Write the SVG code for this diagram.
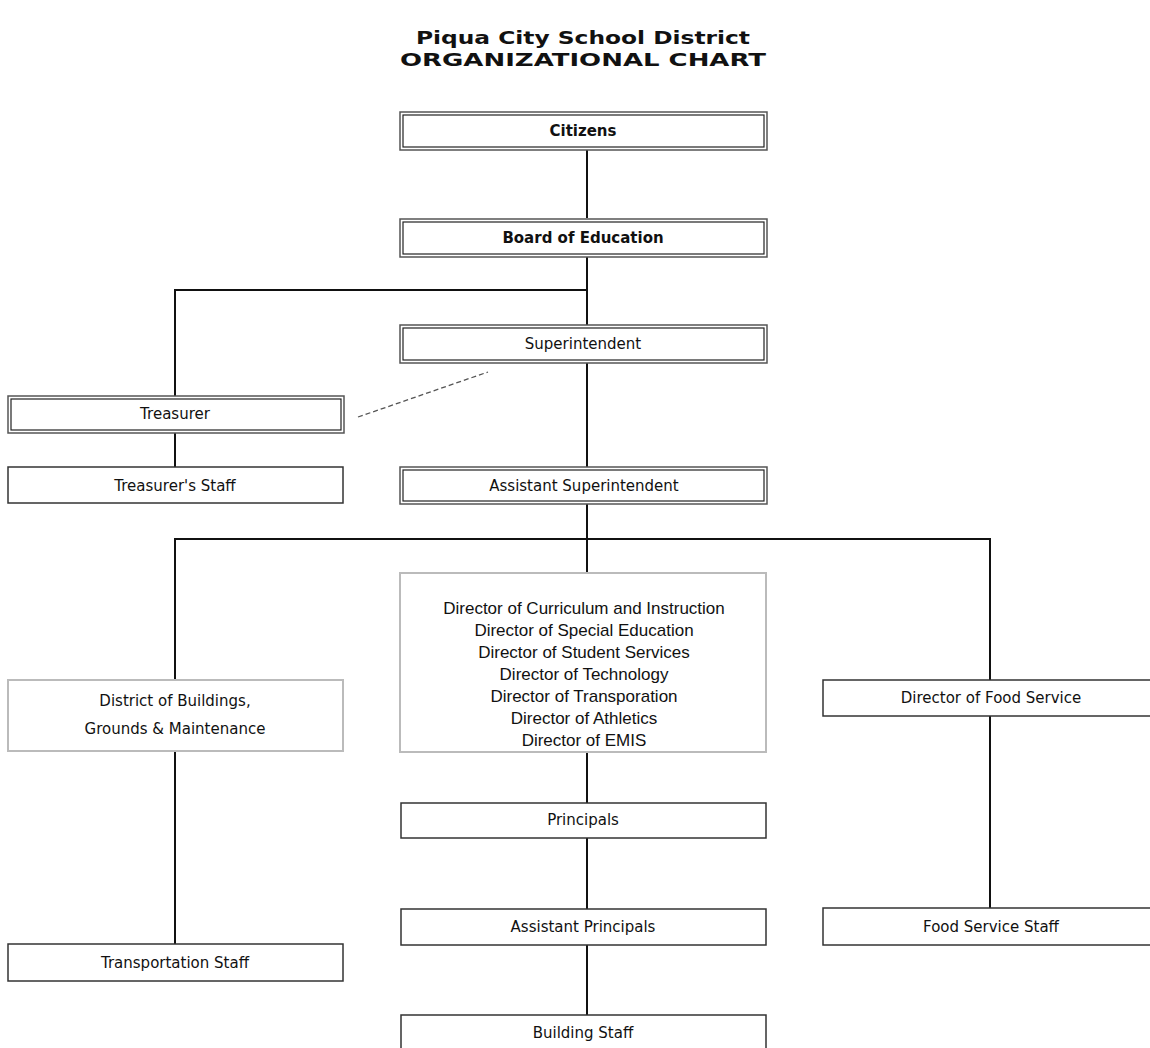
<svg xmlns="http://www.w3.org/2000/svg" width="1150" height="1048" viewBox="0 0 1150 1048">
<style>
.bg{fill:#fff}
.t{font-family:"Comic Sans MS","DejaVu Sans",sans-serif;font-size:15px;fill:#111;text-anchor:middle;dominant-baseline:central}
.b{font-weight:bold}
.title{font-family:"Comic Sans MS","DejaVu Sans",sans-serif;font-size:18px;font-weight:bold;fill:#111;text-anchor:middle}
.ar{font-family:"Liberation Sans",Arial,sans-serif;font-size:17px;fill:#111;text-anchor:middle}
.outer{fill:#fff;stroke:#555;stroke-width:1.5}
.inner{fill:none;stroke:#222;stroke-width:1.2}
.single{fill:#fff;stroke:#333;stroke-width:1.5}
.gray{fill:#fff;stroke:#bbb;stroke-width:2}
.ln{stroke:#111;stroke-width:2;fill:none}
.dash{stroke:#555;stroke-width:1.3;stroke-dasharray:5,3;fill:none}
</style>
<rect class="bg" width="1150" height="1048"/>
<text class="title" x="583" y="44" textLength="334" lengthAdjust="spacingAndGlyphs">Piqua City School District</text>
<text class="title" x="583" y="66" textLength="366" lengthAdjust="spacingAndGlyphs">ORGANIZATIONAL CHART</text>
<g id="connectors">
<path class="ln" d="M587 150V218"/>
<path class="ln" d="M587 257V325"/>
<path class="ln" d="M587 290H175V396"/>
<path class="ln" d="M175 433V467"/>
<path class="ln" d="M587 363V467"/>
<path class="ln" d="M587 504V573"/>
<path class="ln" d="M175 680V539H990V680"/>
<path class="ln" d="M175 751V944"/>
<path class="ln" d="M587 752V803"/>
<path class="ln" d="M587 838V909"/>
<path class="ln" d="M587 945V1015"/>
<path class="ln" d="M990 716V908"/>
<path class="dash" d="M358 417L488 372"/>
</g>
<g id="citizens"><rect class="outer" x="400" y="112" width="367" height="38"/><rect class="inner" x="403" y="115" width="361" height="32"/><text class="t b" x="583" y="131">Citizens</text></g>
<g id="board"><rect class="outer" x="400" y="219" width="367" height="38"/><rect class="inner" x="403" y="222" width="361" height="32"/><text class="t b" x="583" y="238">Board of Education</text></g>
<g id="superintendent"><rect class="outer" x="400" y="325" width="367" height="38"/><rect class="inner" x="403" y="328" width="361" height="32"/><text class="t" x="583" y="344">Superintendent</text></g>
<g id="treasurer"><rect class="outer" x="8" y="396" width="336" height="37"/><rect class="inner" x="11" y="399" width="330" height="31"/><text class="t" x="175" y="414">Treasurer</text></g>
<g id="treasurer-staff"><rect class="single" x="8" y="467" width="335" height="36"/><text class="t" x="175" y="486">Treasurer's Staff</text></g>
<g id="asst-superintendent"><rect class="outer" x="400" y="467" width="367" height="37"/><rect class="inner" x="403" y="470" width="361" height="31"/><text class="t" x="584" y="486">Assistant Superintendent</text></g>
<g id="buildings"><rect class="gray" x="8" y="680" width="335" height="71"/><text class="t" x="175" y="701">District of Buildings,</text><text class="t" x="175" y="729">Grounds &amp; Maintenance</text></g>
<g id="directors"><rect class="gray" x="400" y="573" width="366" height="179"/>
<text class="ar" x="584" y="614">Director of Curriculum and Instruction</text>
<text class="ar" x="584" y="636">Director of Special Education</text>
<text class="ar" x="584" y="658">Director of Student Services</text>
<text class="ar" x="584" y="680">Director of Technology</text>
<text class="ar" x="584" y="702">Director of Transporation</text>
<text class="ar" x="584" y="724">Director of Athletics</text>
<text class="ar" x="584" y="746">Director of EMIS</text></g>
<g id="food-service"><rect class="single" x="823" y="680" width="340" height="36"/><text class="t" x="991" y="698">Director of Food Service</text></g>
<g id="principals"><rect class="single" x="401" y="803" width="365" height="35"/><text class="t" x="583" y="820">Principals</text></g>
<g id="asst-principals"><rect class="single" x="401" y="909" width="365" height="36"/><text class="t" x="583" y="927">Assistant Principals</text></g>
<g id="food-staff"><rect class="single" x="823" y="908" width="340" height="37"/><text class="t" x="991" y="927">Food Service Staff</text></g>
<g id="transport-staff"><rect class="single" x="8" y="944" width="335" height="37"/><text class="t" x="175" y="963">Transportation Staff</text></g>
<g id="building-staff"><rect class="single" x="401" y="1015" width="365" height="40"/><text class="t" x="583" y="1033">Building Staff</text></g>
</svg>
